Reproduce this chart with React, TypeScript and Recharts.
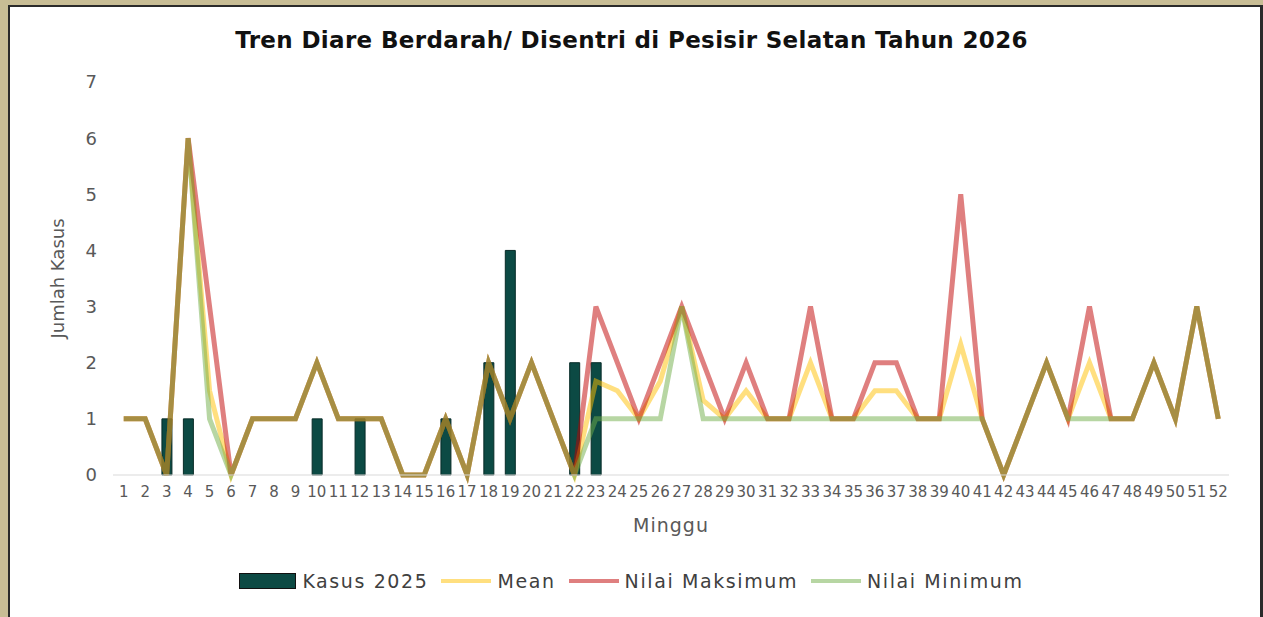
import React from 'react';
import {
    ComposedChart,
    Bar,
    Line,
    XAxis,
    YAxis,
    Legend
} from 'recharts';

// Minggu (week) labels
const weeks = [
    '1', '2', '3', '4', '5', '6', '7', '8', '9', '10', '11', '12', '13',
    '14', '15', '16', '17', '18', '19', '20', '21', '22', '23', '24', '25', '26',
    '27', '28', '29', '30', '31', '32', '33', '34', '35', '36', '37', '38', '39',
    '40', '41', '42', '43', '44', '45', '46', '47', '48', '49', '50', '51', '52'
];

// Kasus 2025 (bars)
const kasus2025 = [
    null, null, 1, 1, null, null, null, null, null, 1, null, 1, null,
    null, null, 1, null, 2, 4, null, null, 2, 2, null, null, null,
    null, null, null, null, null, null, null, null, null, null, null, null, null,
    null, null, null, null, null, null, null, null, null, null, null, null, null
];

const meanValues = [
    1, 1, 0, 6, 1.5, 0, 1, 1, 1, 2, 1, 1, 1,
    0, 0, 1, 0, 2, 1, 2, 1, 0, 1.67, 1.5, 1, 1.67,
    3, 1.33, 1, 1.5, 1, 1, 2, 1, 1, 1.5, 1.5, 1, 1,
    2.33, 1, 0, 1, 2, 1, 2, 1, 1, 2, 1, 3, 1
];

const maxValues = [
    1, 1, 0, 6, 3, 0, 1, 1, 1, 2, 1, 1, 1,
    0, 0, 1, 0, 2, 1, 2, 1, 0, 3, 2, 1, 2,
    3, 2, 1, 2, 1, 1, 3, 1, 1, 2, 2, 1, 1,
    5, 1, 0, 1, 2, 1, 3, 1, 1, 2, 1, 3, 1
];

const minValues = [
    1, 1, 0, 6, 1, 0, 1, 1, 1, 2, 1, 1, 1,
    0, 0, 1, 0, 2, 1, 2, 1, 0, 1, 1, 1, 1,
    3, 1, 1, 1, 1, 1, 1, 1, 1, 1, 1, 1, 1,
    1, 1, 0, 1, 2, 1, 1, 1, 1, 2, 1, 3, 1
];

const yTicks = [0, 1, 2, 3, 4, 5, 6, 7];

const FONT = '"DejaVu Sans", sans-serif';
const AXIS_GREY = '#595959';

const BAR_COLOR = '#0C4A44';
const MEAN_COLOR = '#FFC000';
const MAX_COLOR = '#C00000';
const MIN_COLOR = '#70AD47';

const chartData = weeks.map((w, i) => ({
    week: w,
    kasus: kasus2025[i],
    mean: meanValues[i],
    max: maxValues[i],
    min: minValues[i]
}));

const legendItems = [
    { label: 'Kasus 2025', type: 'bar', color: BAR_COLOR },
    { label: 'Mean', type: 'line', color: MEAN_COLOR },
    { label: 'Nilai Maksimum', type: 'line', color: MAX_COLOR },
    { label: 'Nilai Minimum', type: 'line', color: MIN_COLOR }
];

const renderLegend = () => (
    <div style={{ display: 'flex', justifyContent: 'center', alignItems: 'center', fontFamily: FONT, fontSize: 19, letterSpacing: 1.6, color: '#404040' }}>
        {legendItems.map((item, i) => (
            <div key={item.label} style={{ display: 'flex', alignItems: 'center', marginLeft: i === 0 ? 0 : 13 }}>
                {item.type === 'bar' ? (
                    <div style={{ width: 55, height: 14, background: item.color, border: '1px solid #111' }} />
                ) : (
                    <div style={{ width: 50, height: 4, background: item.color, opacity: 0.5 }} />
                )}
                <span style={{ marginLeft: 6 }}>{item.label}</span>
            </div>
        ))}
    </div>
);

export default function App() {
    return (
        <div style={{ position: 'fixed', left: 0, top: 0, width: 1263, height: 617, background: '#C8BD95', overflow: 'hidden' }}>
            <div style={{ position: 'absolute', left: 8, top: 5, right: 0, bottom: -10, background: '#fff', borderTop: '2px solid #2a2a2a', borderLeft: '2px solid #2a2a2a', borderRight: '3px solid #2a2a2a' }} />
            <div style={{ position: 'absolute', left: 0, top: 27, width: 1263, textAlign: 'center', fontFamily: FONT, fontWeight: 'bold', fontSize: 23, letterSpacing: 0.35, lineHeight: '26px', color: '#111' }}>
                Tren Diare Berdarah/ Disentri di Pesisir Selatan Tahun 2026
            </div>
            <div style={{ position: 'absolute', left: 0, top: 0 }}>
                <ComposedChart
                    width={1263}
                    height={617}
                    data={chartData}
                    margin={{ top: 82, right: 34, bottom: 82, left: 3 }}
                    style={{ fontFamily: FONT }}
                >
                    <XAxis
                        dataKey="week"
                        interval={0}
                        height={60}
                        tickLine={false}
                        axisLine={{ stroke: '#D9D9D9' }}
                        tick={{ fontSize: 15, fill: AXIS_GREY }}
                        tickMargin={5}
                        label={{ value: 'Minggu', position: 'insideBottom', offset: 3, fontSize: 19, fill: AXIS_GREY, letterSpacing: 1 }}
                    />
                    <YAxis
                        type="number"
                        domain={[0, 7]}
                        ticks={yTicks}
                        width={110}
                        tickLine={false}
                        axisLine={false}
                        tick={{ fontSize: 18, fill: AXIS_GREY }}
                        tickMargin={10}
                        label={{ value: 'Jumlah Kasus', angle: -90, position: 'center', fontSize: 18, fill: AXIS_GREY }}
                    />
                    <Legend
                        layout="horizontal"
                        verticalAlign="middle"
                        align="center"
                        wrapperStyle={{ top: 570, left: 0, width: 1263 }}
                        content={renderLegend}
                    />
                    <Bar dataKey="kasus" name="Kasus 2025" barSize={10} fill={BAR_COLOR} stroke="#072B27" strokeWidth={1} isAnimationActive={false} />
                    <Line type="linear" dataKey="mean" name="Mean" stroke={MEAN_COLOR} strokeOpacity={0.5} strokeWidth={5} dot={false} activeDot={false} isAnimationActive={false} />
                    <Line type="linear" dataKey="max" name="Nilai Maksimum" stroke={MAX_COLOR} strokeOpacity={0.5} strokeWidth={5} dot={false} activeDot={false} isAnimationActive={false} />
                    <Line type="linear" dataKey="min" name="Nilai Minimum" stroke={MIN_COLOR} strokeOpacity={0.5} strokeWidth={5} dot={false} activeDot={false} isAnimationActive={false} />
                </ComposedChart>
            </div>
        </div>
    );
}
